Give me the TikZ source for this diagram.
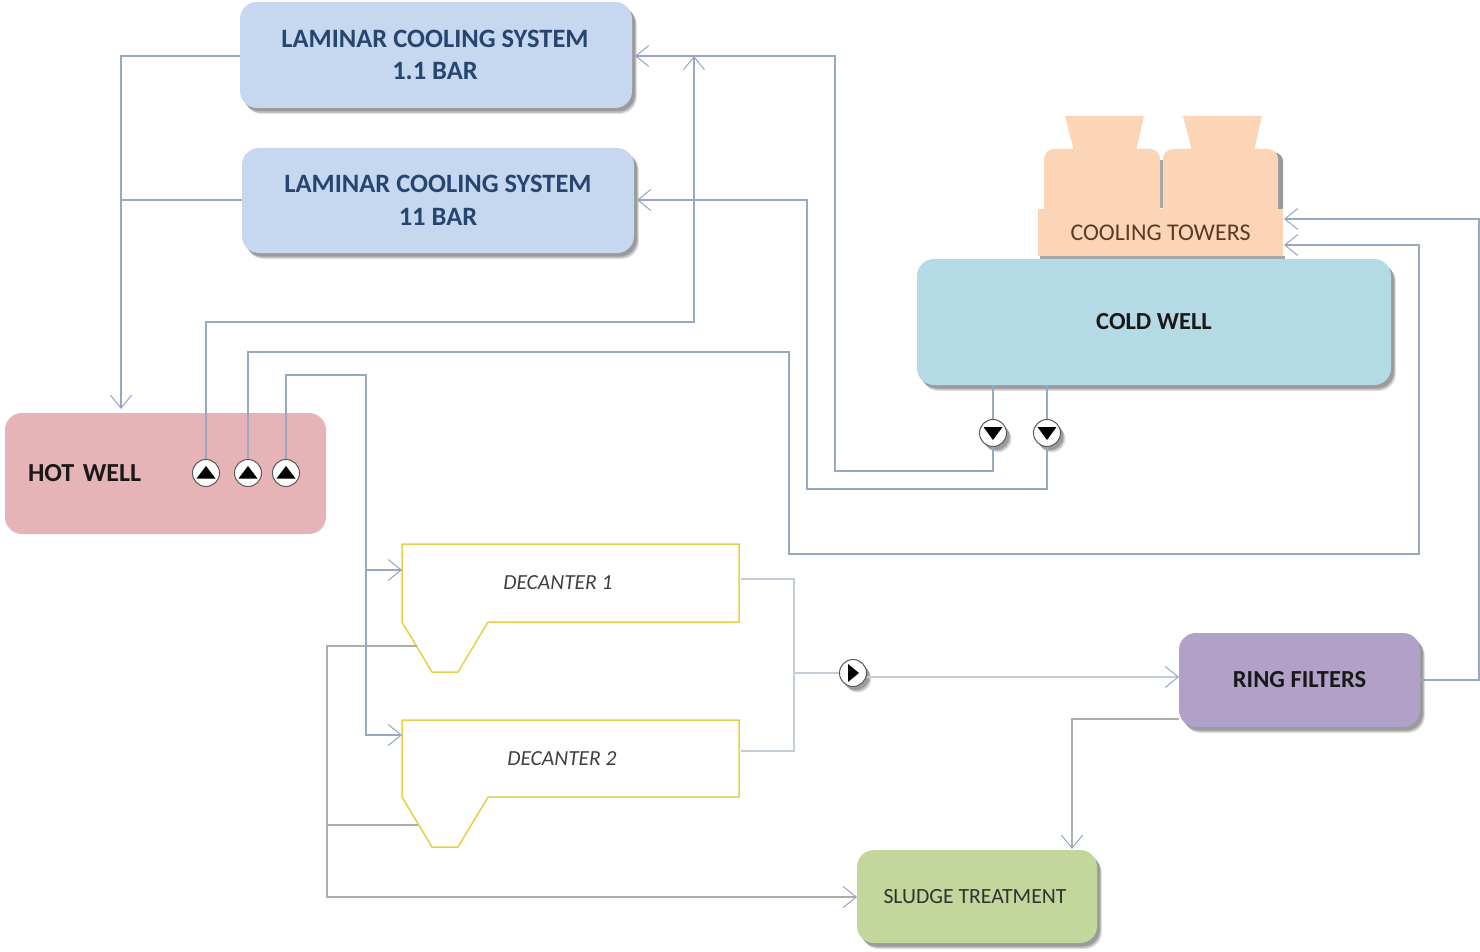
\documentclass[tikz,border=0pt]{standalone}
\usepackage{fontspec}
\setmainfont{Carlito}
\usetikzlibrary{arrows.meta,shadows,calc}
\definecolor{lamfill}{HTML}{C5D8EF}
\definecolor{coldfill}{HTML}{B4DAE6}
\definecolor{hotfill}{HTML}{E6B3B7}
\definecolor{ringfill}{HTML}{B1A0C7}
\definecolor{sludgefill}{HTML}{C3D69B}
\definecolor{towerfill}{HTML}{FBD5B5}
\definecolor{linecol}{HTML}{97A8C0}
\definecolor{greycol}{HTML}{ABB0A6}
\definecolor{palecol}{HTML}{C2CDD8}
\definecolor{yellowcol}{HTML}{E8CF4A}
\definecolor{arrowcol}{HTML}{8FA5CC}
\definecolor{lamtext}{HTML}{27456F}
\definecolor{towertext}{HTML}{5A3A28}
\tikzset{
  softshadow/.style={
    general shadow={shadow xshift=5pt,shadow yshift=-6pt,opacity=.10,fill=black},
    general shadow={shadow xshift=4pt,shadow yshift=-5pt,opacity=.15,fill=black},
    general shadow={shadow xshift=3pt,shadow yshift=-3.5pt,opacity=.20,fill=black}},
  procbox/.style={rectangle,rounded corners=17pt,inner sep=0pt,align=center,softshadow,font=\fontsize{26.5}{32.5}\selectfont\bfseries},
  flatbox/.style={rectangle,rounded corners=17pt,inner sep=0pt,align=center,font=\fontsize{26}{32}\selectfont\bfseries},
  pumpnode/.style={circle,draw=black!65,line width=1pt,fill=white,minimum size=27pt,inner sep=0pt},
  pipe/.style={draw=linecol,line width=1.1pt},
  sludgepipe/.style={draw=greycol,line width=1.1pt},
  palepipe/.style={draw=palecol,line width=1.8pt},
  arrowed/.style={-{Straight Barb[length=13pt,width=21pt,line width=1pt,color=arrowcol]}},
  decanter/.style={draw=yellowcol,line width=1.5pt,line join=round,fill=white},
  declabel/.style={font=\fontsize{21.5}{26}\selectfont\itshape,text=black!75,inner sep=0pt},
}
\newcommand{\pumpup}[1]{\fill[black] ($(#1)+(-9.5pt,-5.5pt)$) -- ($(#1)+(9.5pt,-5.5pt)$) -- ($(#1)+(0,7pt)$) -- cycle;}
\newcommand{\pumpdown}[1]{\fill[black] ($(#1)+(-9.5pt,6pt)$) -- ($(#1)+(9.5pt,6pt)$) -- ($(#1)+(0,-7pt)$) -- cycle;}
\newcommand{\pumpright}[1]{\fill[black] ($(#1)+(-5pt,-9pt)$) -- ($(#1)+(-5pt,9pt)$) -- ($(#1)+(6pt,0)$) -- cycle;}
\begin{document}
\begin{tikzpicture}[x=1pt,y=-1pt]
\useasboundingbox (0,0) rectangle (1480,952);
\fill[white] (0,0) rectangle (1480,952);

% cooling towers
\begin{scope}[line join=round]
\fill[black,opacity=.4,rounded corners=8pt] (1270,153) -- (1283,153) -- (1283,215) -- (1270,215) -- cycle;
\fill[black,opacity=.35] (1159,160) rectangle (1163,208);
\fill[towerfill] (1065,116) -- (1144,116) -- (1136,151) -- (1074,151) -- cycle;
\fill[towerfill] (1183,116) -- (1262,116) -- (1254,151) -- (1192,151) -- cycle;
\fill[towerfill,rounded corners=10pt] (1044,225) -- (1044,149) -- (1160,149) -- (1160,225) -- cycle;
\fill[towerfill,rounded corners=10pt] (1163,225) -- (1163,149) -- (1278,149) -- (1278,225) -- cycle;
\fill[black,opacity=.35] (1040,256) rectangle (1285,260);
\end{scope}
\node[fill=towerfill,minimum width=245pt,minimum height=47pt,inner sep=0pt,font=\fontsize{24}{26}\selectfont,text=towertext] (towers) at (1160.5,232.5) {\raisebox{-1pt}{COOLING TOWERS}};

% process boxes
\node[procbox,fill=lamfill,text=lamtext,minimum width=392pt,minimum height=106pt] (lam1) at (436,55) {\raisebox{-1pt}{LAMINAR COOLING SYSTEM\hspace{2pt}}\\\raisebox{-1pt}{1.1 BAR\hspace{2pt}}};
\node[procbox,fill=lamfill,text=lamtext,minimum width=392pt,minimum height=105pt] (lam2) at (438,200.5) {LAMINAR COOLING SYSTEM\hspace{2pt}\\11 BAR\hspace{2pt}};
\node[procbox,fill=coldfill,text=black!90,minimum width=474pt,minimum height=126pt,font=\fontsize{24.5}{30}\selectfont\bfseries] (cold) at (1154,322) {\raisebox{-1pt}{COLD WELL}};
\node[flatbox,fill=hotfill,text=black!90,minimum width=321pt,minimum height=121pt,text width=275pt,align=left] (hot) at (165.5,473.5) {\raisebox{-1pt}{HOT WELL}};
\node[procbox,fill=ringfill,text=black!90,minimum width=241pt,minimum height=94pt,font=\fontsize{24.5}{30}\selectfont\bfseries] (ring) at (1299.5,680) {RING FILTERS};
\node[procbox,fill=sludgefill,text=black!80,minimum width=240pt,minimum height=93pt,font=\fontsize{21.7}{26}\selectfont] (sludge) at (977,896.5) {SLUDGE TREATMENT\hspace{4pt}};

% decanters
\draw[decanter] (402,544) -- (739,544) -- (739,622) -- (488,622) -- (458,672) -- (432,672) -- (402,622) -- cycle;
\draw[decanter] (402,720) -- (739,720) -- (739,797) -- (488,797) -- (458,847) -- (432,847) -- (402,797) -- cycle;
\node[declabel] (dec1) at (558,583) {DECANTER 1};
\node[declabel] (dec2) at (562,759) {DECANTER 2};

% connection points
\coordinate (dec1in) at (402,570);
\coordinate (dec2in) at (402,735);
\coordinate (dec1out) at (741,579);
\coordinate (dec2out) at (741,751);
\coordinate (dec1sl) at (417,646);
\coordinate (dec2sl) at (418,825);
\coordinate (towerin1) at (1284,219);
\coordinate (towerin2) at (1284,245);
\coordinate (hottop) at (121,409);
\coordinate (lam1in) at (635,56);
\coordinate (lam2in) at (637,200);
\coordinate (lamjoin) at (694,56);
\coordinate (edge) at (1479,680);
\coordinate (ringin) at (1179,677);
\coordinate (ringout) at (1179,719);
\coordinate (sludgetop) at (1072,849);
\coordinate (sludgein) at (857,897);
\coordinate (lam1out) at (240,56);
\coordinate (lam2out) at (242,200);

% pumps
\node[pumpnode] (p1) at (206,473) {};
\node[pumpnode] (p2) at (248,473) {};
\node[pumpnode] (p3) at (286,473) {};
\node[pumpnode,softshadow] (p4) at (993,433) {};
\node[pumpnode,softshadow] (p5) at (1047,433) {};
\node[pumpnode,softshadow] (p6) at (853,673) {};
\pumpup{p1}\pumpup{p2}\pumpup{p3}
\pumpdown{p4}\pumpdown{p5}
\pumpright{p6}

% connectors
\draw[pipe,arrowed] (lam1out) -- (121,56) -- (hottop);
\draw[pipe] (lam2out) -- (121,200);
\draw[pipe,arrowed] (p1.north) -- (206,322) -- (694,322) -- (lamjoin);
\draw[pipe,arrowed] (p2.north) -- (248,352) -- (789,352) -- (789,554) -- (1419,554) -- (1419,245) -- (towerin2);
\draw[pipe,arrowed] (p3.north) -- (286,375) -- (366,375) -- (366,735) -- (dec2in);
\draw[pipe,arrowed] (366,570) -- (dec1in);
\draw[pipe] (993,385) -- (p4.north);
\draw[pipe] (1047,385) -- (p5.north);
\draw[pipe,arrowed] (p4.south) -- (993,471) -- (835,471) -- (835,56) -- (lam1in);
\draw[pipe,arrowed] (p5.south) -- (1047,489) -- (807,489) -- (807,200) -- (lam2in);
\draw[palepipe] (dec1out) -- (794,579) -- (794,751) -- (dec2out);
\draw[palepipe] (794,673) -- (p6.west);
\draw[palepipe,arrowed] (p6.east |- ringin) -- (ringin);
\draw[pipe,arrowed] (ring.east) -- (edge) -- (1479,219) -- (towerin1);
\draw[sludgepipe,arrowed] (ringout) -- (1072,719) -- (sludgetop);
\draw[sludgepipe,arrowed] (dec1sl) -- (327,646) -- (327,897) -- (sludgein);
\draw[sludgepipe] (dec2sl) -- (327,825);
\end{tikzpicture}
\end{document}
